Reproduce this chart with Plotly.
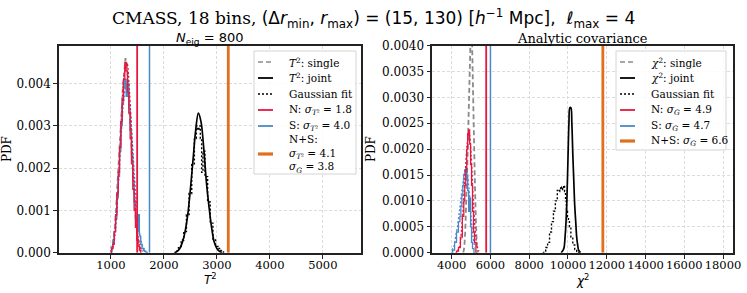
import plotly.graph_objects as go

# ---------------- data ----------------
# Left panel: T^2 statistics (N_eig = 800)
L_SINGLE_X = [1000, 1025, 1050, 1075, 1100, 1125, 1150, 1175, 1200, 1225, 1250, 1275, 1300,
              1325, 1350, 1375, 1400, 1425, 1450, 1475, 1500, 1525, 1550, 1575, 1600]
L_SINGLE_Y = [0, 0.0001, 0.0003, 0.0006, 0.0011, 0.0016, 0.0022, 0.0028, 0.0033, 0.0039, 0.0043,
              0.0046, 0.0045, 0.0040, 0.0034, 0.0028, 0.0022, 0.0016, 0.0011, 0.0007, 0.0004,
              0.0002, 0.0001, 0.00003, 0]

L_N_X = [1000, 1025, 1050, 1075, 1100, 1125, 1150, 1175, 1200, 1225, 1250, 1275, 1300, 1325,
         1350, 1375, 1400, 1425, 1450, 1475, 1500, 1525, 1550, 1575]
L_N_Y = [0, 0.0001, 0.0002, 0.0005, 0.0009, 0.0014, 0.0019, 0.0025, 0.0031, 0.0036, 0.0041,
         0.0045, 0.0043, 0.0038, 0.0033, 0.0027, 0.0021, 0.0015, 0.0010, 0.0006, 0.0003,
         0.00015, 0.00005, 0]

L_S_X = [1000, 1025, 1050, 1075, 1100, 1125, 1150, 1175, 1200, 1225, 1250, 1275, 1300, 1325,
         1350, 1375, 1400, 1425, 1450, 1475, 1500, 1525, 1550, 1575, 1600, 1625, 1650, 1675, 1700]
L_S_Y = [0, 0.0001, 0.0003, 0.0005, 0.0008, 0.0013, 0.0018, 0.0024, 0.0030, 0.0035, 0.0039,
         0.0041, 0.0037, 0.0040, 0.0034, 0.0029, 0.0023, 0.0017, 0.0012, 0.0008, 0.0005,
         0.0009, 0.0004, 0.0002, 0.0001, 0.00005, 0.00003, 0.00001, 0]

L_NFIT_X = [1000, 1050, 1100, 1150, 1200, 1250, 1300, 1350, 1400, 1450, 1500, 1550, 1600]
L_NFIT_Y = [0.00003, 0.0002, 0.0008, 0.0019, 0.0032, 0.0042, 0.0045, 0.0038, 0.0025, 0.0013,
            0.0005, 0.00015, 0.00003]
L_SFIT_X = [1000, 1050, 1100, 1150, 1200, 1250, 1300, 1350, 1400, 1450, 1500, 1550, 1600, 1650]
L_SFIT_Y = [0.0001, 0.0003, 0.0009, 0.0018, 0.0029, 0.0037, 0.0040, 0.0036, 0.0027, 0.0017,
            0.0009, 0.0004, 0.00015, 0.00005]

L_JOINT_X = [2200, 2250, 2300, 2350, 2400, 2450, 2500, 2550, 2600, 2650, 2700, 2750, 2800,
             2850, 2900, 2950, 3000, 3050, 3100]
L_JOINT_Y = [0, 0.00003, 0.0001, 0.00025, 0.0005, 0.0009, 0.0015, 0.0022, 0.0029, 0.0033,
             0.0031, 0.0025, 0.0017, 0.0011, 0.0006, 0.00025, 0.0001, 0.00003, 0]
L_JFIT_X = [2200, 2250, 2300, 2350, 2400, 2450, 2500, 2550, 2600, 2625, 2650, 2675, 2700, 2725,
            2750, 2800, 2850, 2900, 2950, 3000, 3050, 3100, 3150]
L_JFIT_Y = [0, 0.00005, 0.00012, 0.0003, 0.0005, 0.0009, 0.0014, 0.0021, 0.0027, 0.0030, 0.0029,
            0.0030, 0.0027, 0.0019, 0.0024, 0.0018, 0.0012, 0.0007, 0.0003, 0.00015, 0.0001,
            0.00005, 0]

L_VLINES = [1495, 1728, 3215]          # N, S, N+S
L_XRANGE = [20, 5720]
L_YRANGE = [0, 0.0049]
L_XTICKS = [1000, 2000, 3000, 4000, 5000]
L_YTICKS = [0, 0.001, 0.002, 0.003, 0.004]

# Right panel: chi^2 statistics (analytic covariance)
R_SINGLE_X = [4600, 4650, 4700, 4750, 4800, 4850, 4900, 4950, 5000, 5050, 5100, 5150, 5200,
              5250, 5300, 5350]
R_SINGLE_Y = [0, 0.0001, 0.0004, 0.0009, 0.0016, 0.0023, 0.0030, 0.0040, 0.0045, 0.0041,
              0.0030, 0.0021, 0.0013, 0.0006, 0.0001, 0]

R_N_X = [4200, 4300, 4400, 4500, 4600, 4650, 4700, 4750, 4800, 4850, 4900, 4950, 5000, 5050,
         5100, 5150, 5200, 5300]
R_N_Y = [0, 0.00003, 0.0001, 0.0003, 0.0007, 0.0010, 0.0013, 0.0016, 0.0020, 0.0023, 0.00237,
         0.0021, 0.0017, 0.0013, 0.0008, 0.0004, 0.0002, 0]

R_S_X = [4000, 4100, 4200, 4300, 4400, 4450, 4500, 4550, 4600, 4650, 4700, 4750, 4800, 4850,
         4900, 4950, 5000, 5050, 5100, 5200]
R_S_Y = [0, 0.00005, 0.0002, 0.0004, 0.0006, 0.0007, 0.0009, 0.0011, 0.0013, 0.0015, 0.0016,
         0.00163, 0.0015, 0.0012, 0.0008, 0.00106, 0.0005, 0.0002, 0.00008, 0]

R_NFIT_X = [4300, 4400, 4500, 4600, 4700, 4800, 4900, 5000, 5100, 5200, 5300, 5400]
R_NFIT_Y = [0.00003, 0.0001, 0.0004, 0.0009, 0.0015, 0.0021, 0.0023, 0.0019, 0.0011, 0.0005,
            0.00015, 0.00003]
R_SFIT_X = [4000, 4100, 4200, 4300, 4400, 4500, 4600, 4700, 4800, 4900, 5000, 5100, 5200]
R_SFIT_Y = [0.00005, 0.0001, 0.0003, 0.0005, 0.0008, 0.0011, 0.0014, 0.0016, 0.0015, 0.0012,
            0.0007, 0.0003, 0.0001]

R_JOINT_X = [9650, 9750, 9800, 9850, 9900, 9950, 10000, 10050, 10100, 10150, 10200, 10250,
             10300, 10350, 10400, 10450, 10500, 10550, 10650]
R_JOINT_Y = [0, 0.00005, 0.0001, 0.0003, 0.0006, 0.0011, 0.0018, 0.0025, 0.0028, 0.0028,
             0.0025, 0.0019, 0.0014, 0.0009, 0.0006, 0.0003, 0.00015, 0.00005, 0]
R_JFIT_X = [8700, 8800, 8900, 9000, 9100, 9200, 9300, 9400, 9500, 9550, 9600, 9650, 9700,
            9750, 9800, 9850, 9900, 9950, 10000, 10050, 10100, 10200, 10300, 10400, 10500, 10600]
R_JFIT_Y = [0, 0.00003, 0.0001, 0.0002, 0.0004, 0.0006, 0.0008, 0.0010, 0.0012, 0.00118,
            0.00125, 0.00122, 0.00127, 0.00122, 0.0013, 0.00118, 0.0010, 0.0008, 0.0007, 0.0006,
            0.0005, 0.0003, 0.00015, 0.00006, 0.00002, 0]

R_VLINES = [5780, 6000, 11800]
R_XRANGE = [3000, 18500]
R_YRANGE = [0, 0.004]
R_XTICKS = [4000, 6000, 8000, 10000, 12000, 14000, 16000, 18000]
R_YTICKS = [0, 0.0005, 0.001, 0.0015, 0.002, 0.0025, 0.003, 0.0035, 0.004]

L_NAMES = ["<i>T</i><sup>2</sup>: single", "<i>T</i><sup>2</sup>: joint", "Gaussian fit",
           "N: <i>σ</i><sub><i>T</i>²</sub> = 1.8", "S: <i>σ</i><sub><i>T</i>²</sub> = 4.0",
           "N+S:<br><i>σ</i><sub><i>T</i>²</sub> = 4.1<br><i>σ</i><sub><i>G</i></sub> = 3.8"]
R_NAMES = ["<i>χ</i><sup>2</sup>: single", "<i>χ</i><sup>2</sup>: joint", "Gaussian fit",
           "N: <i>σ</i><sub><i>G</i></sub> = 4.9", "S: <i>σ</i><sub><i>G</i></sub> = 4.7",
           "N+S: <i>σ</i><sub><i>G</i></sub> = 6.6"]

# ---------------- styling ----------------
RED = "#e8163f"
BLUE = "#4a88c7"
ORANGE = "#e0701e"
GREY = "#8a8a8a"
SERIF = "DejaVu Serif"
SANS = "DejaVu Sans"
W, H = 747, 293

fig = go.Figure()


def add_panel(xa, ya, single, nh, sh, nfit, sfit, joint, jfit, vlines, yr, names):
    common = dict(xaxis=xa, yaxis=ya, mode="lines", hoverinfo="skip", showlegend=False)
    fig.add_trace(go.Scatter(x=single[0], y=single[1], name=names[0],
                             line=dict(color=GREY, width=1.8, dash="5px,3px"), **common))
    fig.add_trace(go.Scatter(x=joint[0], y=joint[1], name=names[1],
                             line=dict(color="black", width=1.7, shape="spline"), **common))
    fig.add_trace(go.Scatter(x=jfit[0], y=jfit[1], name=names[2],
                             line=dict(color="black", width=1.4, dash="2px,2px", shape="hvh"), **common))
    fig.add_trace(go.Scatter(x=sh[0], y=sh[1], line=dict(color=BLUE, width=1.3, shape="hvh"), **common))
    fig.add_trace(go.Scatter(x=sfit[0], y=sfit[1],
                             line=dict(color=BLUE, width=1.4, dash="2px,2px", shape="spline"), **common))
    fig.add_trace(go.Scatter(x=nh[0], y=nh[1], line=dict(color=RED, width=1.3, shape="hvh"), **common))
    fig.add_trace(go.Scatter(x=nfit[0], y=nfit[1],
                             line=dict(color=RED, width=1.4, dash="2px,2px", shape="spline"), **common))
    for v, c, w, nm in zip(vlines, [RED, BLUE, ORANGE], [1.8, 1.5, 2.8], names[3:]):
        fig.add_trace(go.Scatter(x=[v, v], y=yr, name=nm, line=dict(color=c, width=w), **common))


add_panel("x", "y", (L_SINGLE_X, L_SINGLE_Y), (L_N_X, L_N_Y), (L_S_X, L_S_Y),
          (L_NFIT_X, L_NFIT_Y), (L_SFIT_X, L_SFIT_Y), (L_JOINT_X, L_JOINT_Y), (L_JFIT_X, L_JFIT_Y),
          L_VLINES, L_YRANGE, L_NAMES)
add_panel("x2", "y2", (R_SINGLE_X, R_SINGLE_Y), (R_N_X, R_N_Y), (R_S_X, R_S_Y),
          (R_NFIT_X, R_NFIT_Y), (R_SFIT_X, R_SFIT_Y), (R_JOINT_X, R_JOINT_Y), (R_JFIT_X, R_JFIT_Y),
          R_VLINES, R_YRANGE, R_NAMES)

# ---------------- hand-drawn legends (matplotlib-like compact boxes) ----------------
shapes, annotations = [], []
SAMPLE_STYLES = [dict(color=GREY, width=1.7, dash="5px,3px"), dict(color="black", width=1.8),
                 dict(color="black", width=1.4, dash="2px,2px"), dict(color=RED, width=1.8),
                 dict(color=BLUE, width=1.8), dict(color=ORANGE, width=3.2)]


def px(xp, yp):
    return xp / W, (H - yp) / H


def legend_box(x0, x1, y0, y1, names, sample_y, text_y):
    bx0, by0 = px(x0, y1)
    bx1, by1 = px(x1, y0)
    shapes.append(dict(type="rect", xref="paper", yref="paper", x0=bx0, x1=bx1, y0=by0, y1=by1,
                       fillcolor="rgba(255,255,255,0.85)", line=dict(color="#d4d4d4", width=1),
                       layer="above"))
    for nm, sy, ty, st in zip(names, sample_y, text_y, SAMPLE_STYLES):
        sx0, syy = px(x0 + 4, sy)
        sx1, _ = px(x0 + 19, sy)
        shapes.append(dict(type="line", xref="paper", yref="paper", x0=sx0, x1=sx1, y0=syy, y1=syy,
                           line=st, layer="above"))
        tx, tyy = px(x0 + 33, ty)
        annotations.append(dict(text=nm, x=tx, y=tyy, xref="paper", yref="paper", showarrow=False,
                                xanchor="left", yanchor="middle", align="left",
                                font=dict(family=SERIF, size=10.5, color="black")))


legend_box(254, 356, 51, 174, L_NAMES, [62, 78, 94, 110, 126, 154], [62, 78, 94, 110, 126, 154])
legend_box(616, 726, 51, 150, R_NAMES, [62, 78, 94, 110, 126, 141], [62, 78, 94, 110, 126, 141])

annotations += [
    dict(text="<span style='font-family:DejaVu Serif'>CMASS, 18 bins,</span> "
              "(Δ<i>r</i><sub>min</sub>, <i>r</i><sub>max</sub>) = (15, 130) "
              "[<i>h</i><sup>−1</sup> Mpc],  <i>ℓ</i><sub>max</sub> = 4",
         x=0.5, y=(H - 19) / H, xref="paper", yref="paper", showarrow=False,
         font=dict(family=SANS, size=17, color="black"), xanchor="center", yanchor="middle"),
    dict(text="<i>N</i><sub>eig</sub> = 800", x=(59 + 361) / 2 / W, y=(H - 38) / H,
         xref="paper", yref="paper", showarrow=False, xanchor="center", yanchor="middle",
         font=dict(family=SANS, size=13, color="black")),
    dict(text="Analytic covariance", x=(432.3 + 732.7) / 2 / W, y=(H - 38) / H,
         xref="paper", yref="paper", showarrow=False, xanchor="center", yanchor="middle",
         font=dict(family=SERIF, size=13, color="black")),
    dict(text="<i>T</i><sup>2</sup>", x=(59 + 361) / 2 / W, y=(H - 279) / H,
         xref="paper", yref="paper", showarrow=False, xanchor="center", yanchor="middle",
         font=dict(family=SANS, size=12, color="black")),
    dict(text="<i>χ</i><sup>2</sup>", x=(432.3 + 732.7) / 2 / W, y=(H - 280) / H,
         xref="paper", yref="paper", showarrow=False, xanchor="center", yanchor="middle",
         font=dict(family=SANS, size=12, color="black")),
]

axis_common = dict(showline=True, linecolor="#222222", linewidth=1.6, mirror=True,
                   ticks="outside", ticklen=4, tickwidth=1.2, tickcolor="#222222",
                   showgrid=True, gridcolor="#dcdcdc", gridwidth=0.7, griddash="3px,2px",
                   zeroline=False, automargin=False)
xtickfont = dict(family=SERIF, size=11.5, color="black")
ytickfont = dict(family=SERIF, size=12, color="black")

yd = [(H - 252.7) / H, (H - 45.5) / H]
fig.update_layout(
    width=W, height=H, margin=dict(l=0, r=0, t=0, b=0, autoexpand=False),
    paper_bgcolor="white", plot_bgcolor="white", showlegend=False,
    xaxis=dict(domain=[59 / W, 361 / W], range=L_XRANGE, tickvals=L_XTICKS, tickformat="d",
               anchor="y", tickangle=0, tickfont=xtickfont, ticklabelstandoff=-3, **axis_common),
    yaxis=dict(domain=yd, range=L_YRANGE, tickvals=L_YTICKS, tickformat=".3f", anchor="x",
               tickfont=ytickfont,
               title=dict(text="PDF", font=dict(family=SERIF, size=12, color="black"), standoff=5),
               **axis_common),
    xaxis2=dict(domain=[432.3 / W, 732.7 / W], range=R_XRANGE, tickvals=R_XTICKS, tickformat="d",
                anchor="y2", tickangle=0, tickfont=xtickfont, ticklabelstandoff=-3, **axis_common),
    yaxis2=dict(domain=yd, range=R_YRANGE, tickvals=R_YTICKS, tickformat=".4f", anchor="x2",
                tickfont=ytickfont,
                title=dict(text="PDF", font=dict(family=SERIF, size=12, color="black"), standoff=4),
                **axis_common),
    shapes=shapes,
    annotations=annotations,
)

fig.write_html("out.html", config={"displayModeBar": False},
               post_script="document.body.style.margin='0';")
